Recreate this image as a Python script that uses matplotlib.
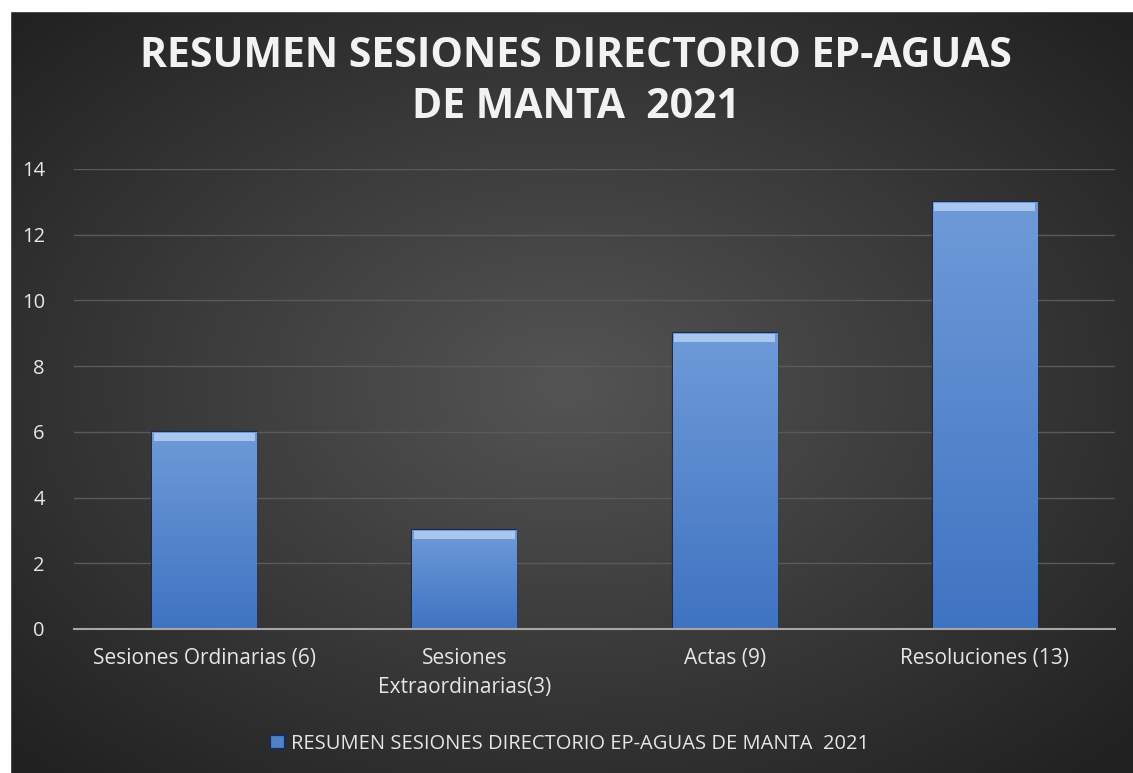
import matplotlib.pyplot as plt
import numpy as np

plt.rcParams['font.family'] = ['Open Sans', 'DejaVu Sans']

# Data
categories = ['Sesiones Ordinarias (6)', 'Sesiones\nExtraordinarias(3)', 'Actas (9)', 'Resoluciones (13)']
values = [6, 3, 9, 13]
series_name = 'RESUMEN SESIONES DIRECTORIO EP-AGUAS DE MANTA  2021'
title = 'RESUMEN SESIONES DIRECTORIO EP-AGUAS\nDE MANTA  2021'

W, H = 1133, 773
fig = plt.figure(figsize=(W / 100, H / 100), dpi=100)
fig.patch.set_facecolor('#2a2a2a')

# dark radial gradient background
bg = fig.add_axes([0, 0, 1, 1])
bg.set_axis_off()
yy, xx = np.mgrid[0:1:400j, 0:1:600j]
r = np.sqrt(((xx - 0.5) / 0.75) ** 2 + ((yy - 0.5) / 0.75) ** 2)
shade = np.clip(0.33 - 0.22 * r, 0.13, 0.33)
bg.imshow(np.dstack([shade] * 3), aspect='auto', extent=[0, 1, 0, 1])
bg.set_xlim(0, 1)
bg.set_ylim(0, 1)
# white margin at top and left
bg.add_patch(plt.Rectangle((0, 1 - 11 / H), 1, 11 / H, color='white', zorder=5))
bg.add_patch(plt.Rectangle((0, 0), 10 / W, 1, color='white', zorder=5))

ax = fig.add_axes([74 / W, 1 - 629 / H, (1115 - 74) / W, (629 - 169) / H])
ax.patch.set_alpha(0)
x = np.arange(len(categories))
bars = ax.bar(x, values, width=0.4, color='#4f81c8', edgecolor='#1a2c52', linewidth=1.6,
              zorder=3, label=series_name)

# vertical gradient on bars plus a lighter top bevel
grad = np.linspace(0, 1, 100).reshape(-1, 1)
cmap = plt.matplotlib.colors.LinearSegmentedColormap.from_list('b', ['#3f74c2', '#6e9ad8'])
for b in bars:
    x0, w, h = b.get_x(), b.get_width(), b.get_height()
    im = ax.imshow(grad, cmap=cmap, aspect='auto', origin='lower',
                   extent=[x0, x0 + w, 0, h], zorder=3.5)
    im.set_clip_path(b)
    ax.bar(b.get_x() + w / 2, 0.25, width=w * 0.97, bottom=h - 0.27, color='#a9c6ee',
           edgecolor='none', zorder=4)

ax.set_xlim(-0.5, len(categories) - 0.5)
ax.set_ylim(0, 14)
ax.set_yticks(range(0, 15, 2))
ax.grid(axis='y', color='#5a5a5a', linewidth=1, zorder=0)
for s in ['top', 'right', 'left']:
    ax.spines[s].set_visible(False)
ax.spines['bottom'].set_color('#a6a6a6')
ax.spines['bottom'].set_linewidth(1.5)
ax.spines['bottom'].set_zorder(5)
ax.set_xticks(x)
ax.set_xticklabels(categories, fontsize=15, color='#e6e6e6', linespacing=1.5)
ax.tick_params(axis='both', length=0, colors='#e6e6e6')
ax.tick_params(axis='y', labelsize=14.5, pad=21)
ax.tick_params(axis='x', pad=14)

fig.text(0.508, 1 - 82 / H, title, ha='center', va='center', fontsize=29.5, fontweight='bold',
         color='#f2f2f2', linespacing=1.3)

leg = fig.legend(handles=[bars], labels=[series_name], loc='center', bbox_to_anchor=(0.503, 1 - 744 / H),
                 frameon=False, fontsize=14.5, labelcolor='#e6e6e6', handlelength=0.75,
                 handleheight=0.75, handletextpad=0.3)

fig.savefig('out.png', dpi=100)
